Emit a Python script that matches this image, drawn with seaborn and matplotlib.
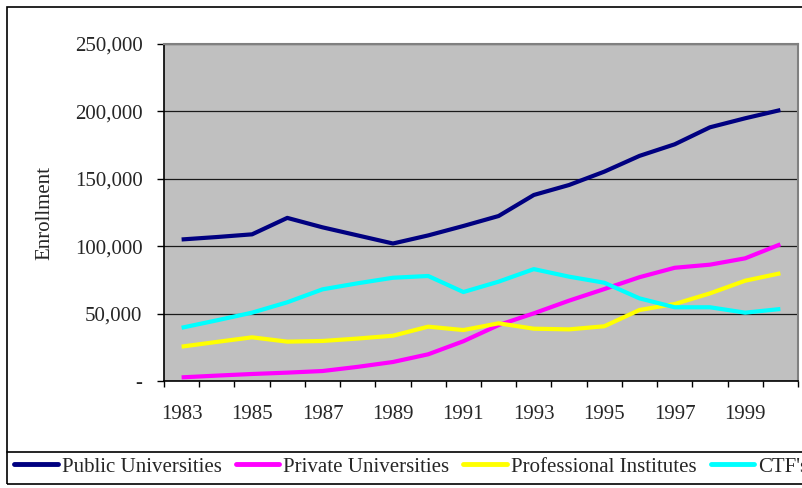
import pandas as pd
import seaborn as sns
import matplotlib.pyplot as plt
from matplotlib.lines import Line2D
from matplotlib.patches import Rectangle
from matplotlib.ticker import FuncFormatter, MultipleLocator

# enrollment by type of institution
years = list(range(1983, 2001))
public = [105000, 106800, 108800, 121000, 114000, 108000, 102000, 108000, 115000,
          122400, 138000, 145400, 155300, 167000, 175600, 188200, 194900, 201000]
private = [2700, 4000, 5200, 6200, 7400, 10500, 14100, 19800, 29500,
           41500, 50200, 59600, 68200, 77000, 84000, 86300, 91000, 101400]
professional = [25500, 29000, 32400, 29200, 29700, 31500, 33600, 40300, 37800,
                42800, 38800, 38300, 40600, 52700, 57100, 65000, 74400, 79900]
ctf = [39500, 45000, 50700, 58400, 68000, 72500, 76600, 77900, 66000,
       73700, 83000, 77400, 72900, 61300, 54700, 54700, 50700, 53400]

names = ["Public Universities", "Private Universities", "Professional Institutes", "CTF's"]
colors = ["#000080", "#FF00FF", "#FFFF00", "#00FFFF"]

df = pd.DataFrame({"Year": years, names[0]: public, names[1]: private,
                   names[2]: professional, names[3]: ctf})
long = df.melt(id_vars="Year", var_name="Type", value_name="Enrollment")

sns.set_style("white")
plt.rcParams['font.family'] = ['Liberation Serif', 'DejaVu Serif']

W, H = 803, 488
fig = plt.figure(figsize=(W / 100, H / 100), dpi=100)
ax = fig.add_axes([164 / W, 1 - 381 / H, (798 - 164) / W, (381 - 44) / H])

sns.lineplot(data=long, x="Year", y="Enrollment", hue="Type", hue_order=names,
             palette=colors, linewidth=3, legend=False, ax=ax)
for ln in ax.lines:
    ln.set_solid_capstyle('butt')

ax.set_facecolor("#C0C0C0")
ax.set_xlim(1982.5, 2000.5)
ax.set_ylim(0, 250000)

# y axis
ax.yaxis.set_major_locator(MultipleLocator(50000))
ax.yaxis.set_major_formatter(FuncFormatter(lambda v, p: "-" if v == 0 else f"{int(v):,}"))
ax.tick_params(axis='y', direction='out', length=5, width=1, color='black',
               labelsize=15, pad=10.5, left=True)
ax.grid(axis='y', color='#1a1a1a', linewidth=0.9)
ax.grid(axis='x', visible=False)
ax.set_axisbelow(True)
ax.set_ylabel("Enrollment", fontsize=15)
ax.yaxis.set_label_coords((54 - 164) / (798 - 164), 0.5)

# x axis: labels on odd years, tick marks on category boundaries
ax.set_xticks(years[::2])
ax.set_xticklabels([str(y) for y in years[::2]])
ax.set_xticks([y - 0.5 for y in years] + [2000.5], minor=True)
ax.tick_params(axis='x', which='major', length=0, labelsize=15, pad=17)
ax.tick_params(axis='x', which='minor', direction='out', length=4.5, width=1,
               color='black', bottom=True)
ax.set_xlabel("")

for side in ["left", "bottom"]:
    ax.spines[side].set_color("black")
    ax.spines[side].set_linewidth(1.2)
for side in ["top", "right"]:
    ax.spines[side].set_color("#808080")
    ax.spines[side].set_linewidth(1.5)

# chart frame and legend box
fig.patches.append(Rectangle((7 / W, 1 - 484 / H), 1.2, (484 - 7) / H,
                             transform=fig.transFigure, fill=False,
                             edgecolor='black', linewidth=1.2))
fig.lines.append(Line2D([7 / W, 1.0], [1 - 452 / H] * 2, transform=fig.transFigure,
                        color='black', linewidth=1.2))

handles = [Line2D([], [], color=c, linewidth=3.5) for c in colors]
fig.legend(handles, names, loc='center left', bbox_to_anchor=(14 / W, 1 - 467 / H),
           ncol=4, frameon=False, fontsize=15, handlelength=2.1, handletextpad=0.18,
           columnspacing=0.68, borderpad=0, borderaxespad=0)

fig.savefig("out.png", dpi=100)
